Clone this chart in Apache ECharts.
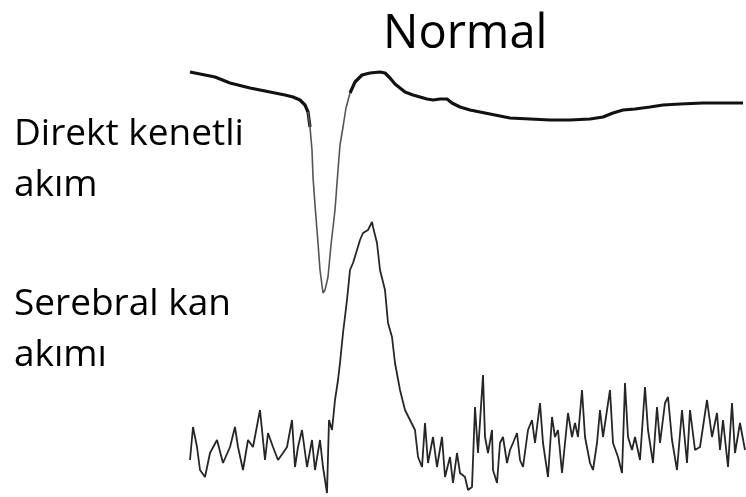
<!DOCTYPE html>
<html>
<head>
<meta charset="utf-8">
<script src="https://cdn.jsdelivr.net/npm/echarts@6/dist/echarts.min.js"></script>
<style>
html,body{margin:0;padding:0;background:#fff;}
#chart{width:746px;height:497px;}
</style>
</head>
<body>
<div id="chart"></div>
<script>
// Titles / labels
var titleText = 'Normal';
var labelDC = ['Direkt kenetli', 'akım'];
var labelCBF = ['Serebral kan', 'akımı'];

// Direct-coupled (DC) potential, time in s, value in mV
var dcTime = [0, 2, 5, 8, 12, 16, 19, 20.6, 22, 23, 23.6, 24, 24.4, 24.6, 25, 25.6, 26, 26.6, 27, 27.6,
  28.2, 29, 29.6, 30, 30.6, 31.2, 32, 33, 34.4, 36, 38, 39, 40, 41, 42, 43, 44.6, 46, 47.4, 48.6,
  50, 51.4, 52.4, 54, 56, 58, 60, 62, 64, 68, 72, 76, 80, 82.6, 84.6, 86.6, 89, 92, 94.6, 98,
  102.6, 106, 110.6];
var dcValue = [2.8, 2.6, 2.3, 1.7, 1.2, 0.8, 0.5, 0.3, 0, -0.5, -1.2, -2.7, -5, -7.7, -10.5, -14.3, -17, -19.3, -19, -17.7,
  -14.5, -11, -7, -4.5, -2.7, -0.8, 0.7, 1.8, 2.5, 2.7, 2.8, 2.7, 2.2, 1.6, 1.2, 0.8, 0.5, 0.3, 0.1, 0,
  0.1, 0.1, -0.3, -0.7, -1.0, -1.2, -1.4, -1.6, -1.8, -1.9, -2.0, -2.0, -1.9, -1.7, -1.3, -1.0, -0.9, -0.7, -0.5, -0.4,
  -0.3, -0.3, -0.3];

// Cerebral blood flow, time in s, value in % of baseline
var cbfTime = [0, 0.6, 1.4, 2, 3, 4, 5.4, 6.6, 8, 9,
  9.6, 10.6, 11.6, 12.6, 14, 15, 15.6, 16.6, 17.6, 18.6,
  19.4, 20.4, 21, 21.6, 22.4, 23.4, 24.4, 25, 26, 26.6,
  27.4, 27.8, 28.4, 29, 29.6, 30, 30.6, 31.4, 32, 32.6,
  33.4, 34, 34.6, 35.6, 36.4, 36.6, 37.4, 38, 39, 39.6,
  40.4, 41, 42, 43, 44, 45, 45.6, 46.4, 47, 47.6,
  48.6, 49.4, 50.4, 51, 52, 52.6, 53.4, 54, 55, 55.6,
  56.4, 57, 57.6, 58.6, 59, 59.6, 60.4, 60.6, 61.4, 62,
  62.6, 63.4, 64, 64.6, 65.4, 66, 66.6, 67.6, 68.4, 69,
  70, 70.6, 71.6, 72.4, 73, 73.6, 74.4, 75, 75.6, 76.4,
  77, 77.6, 78.4, 79, 80, 80.6, 81.4, 82, 82.6, 84,
  84.6, 85.6, 86.4, 87, 87.6, 88.4, 89, 90, 91, 91.6,
  92.6, 93.4, 94, 95, 95.6, 96.4, 97.4, 98.4, 99.4, 100,
  101, 102, 103.4, 104.4, 105.4, 106, 106.6, 107.6, 108.4, 109,
  110, 111];
var cbfValue = [85, 118, 98, 75, 68, 92, 105, 82, 98, 118,
  98, 75, 105, 98, 135, 85, 112, 98, 85, 92,
  98, 125, 78, 98, 115, 78, 105, 75, 105, 78,
  52, 125, 115, 145, 165, 182, 212, 245, 275, 282,
  295, 305, 312, 315, 323, 318, 302, 275, 255, 222,
  208, 182, 155, 135, 125, 115, 88, 78, 122, 82,
  108, 78, 108, 68, 88, 62, 92, 72, 68, 55,
  58, 138, 92, 170, 108, 92, 115, 75, 62, 102,
  108, 82, 95, 102, 112, 85, 78, 115, 125, 102,
  142, 102, 68, 128, 108, 115, 72, 102, 132, 108,
  122, 108, 155, 108, 82, 75, 102, 135, 108, 155,
  102, 88, 72, 162, 108, 95, 108, 85, 158, 115,
  82, 138, 102, 142, 148, 105, 75, 135, 82, 135,
  95, 98, 145, 108, 132, 95, 125, 78, 142, 92,
  122, 95];

var dcThick = dcTime.map(function (t, i) { return (t <= 24 || t >= 32) ? [t, dcValue[i]] : [t, null]; });
var dcThin = [];
dcTime.forEach(function (t, i) { if (t >= 23.6 && t <= 32.6) dcThin.push([t, dcValue[i]]); });
var cbfData = cbfTime.map(function (t, i) { return [t, cbfValue[i]]; });

var chart = echarts.init(document.getElementById('chart'), null, {renderer: 'canvas'});
var FONT = '"Open Sans", "Noto Sans", sans-serif';
chart.setOption({
  animation: false,
  backgroundColor: '#ffffff',
  grid: {left: 190, right: 0, top: 0, bottom: 0, containLabel: false},
  xAxis: {type: 'value', min: 0, max: 111.2, show: false},
  yAxis: [
    {type: 'value', min: -39.7, max: 10, show: false},
    {type: 'value', min: 48, max: 545, show: false}
  ],
  series: [
    {type: 'line', data: dcThick, yAxisIndex: 0, showSymbol: false, connectNulls: false,
     lineStyle: {color: '#111111', width: 3.2}},
    {type: 'line', data: dcThin, yAxisIndex: 0, showSymbol: false,
     lineStyle: {color: '#555555', width: 1.6}},
    {type: 'line', data: cbfData, yAxisIndex: 1, showSymbol: false,
     lineStyle: {color: '#262626', width: 1.8}}
  ],
  graphic: [
    {type: 'text', left: 383, top: 11, style: {text: titleText, font: '47px ' + FONT, fill: '#000'}},
    {type: 'text', left: 14, top: 116, style: {text: labelDC[0], font: '37px ' + FONT, fill: '#000'}},
    {type: 'text', left: 14, top: 167, style: {text: labelDC[1], font: '37px ' + FONT, fill: '#000'}},
    {type: 'text', left: 14, top: 286, style: {text: labelCBF[0], font: '37px ' + FONT, fill: '#000'}},
    {type: 'text', left: 14, top: 337, style: {text: labelCBF[1], font: '37px ' + FONT, fill: '#000'}}
  ]
});
</script>
</body>
</html>
